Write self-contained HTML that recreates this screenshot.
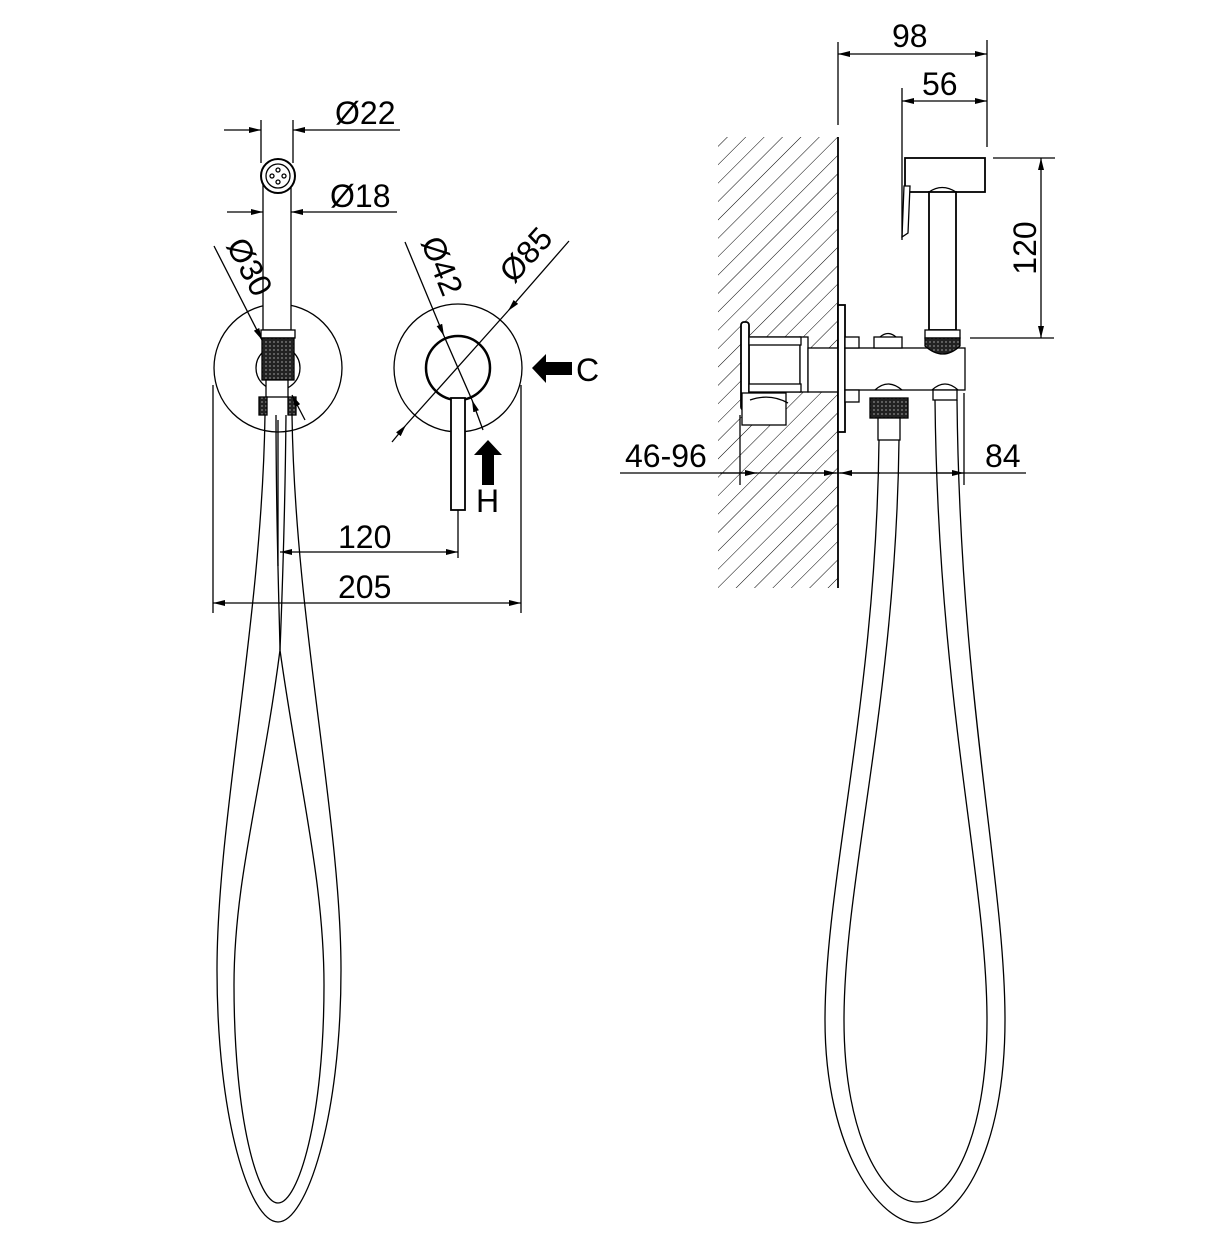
<!DOCTYPE html>
<html><head><meta charset="utf-8"><style>
html,body{margin:0;padding:0;background:#fff}
svg{display:block}
text{font-family:"Liberation Sans",sans-serif;font-size:32px;fill:#000}
</style></head><body>
<svg width="1210" height="1241" viewBox="0 0 1210 1241" xmlns="http://www.w3.org/2000/svg">
<defs>
<pattern id="h" width="13" height="13" patternUnits="userSpaceOnUse" patternTransform="rotate(45)">
<line x1="0" y1="0" x2="0" y2="13" stroke="#000" stroke-width="1"/>
</pattern>
<pattern id="k" width="4" height="4" patternUnits="userSpaceOnUse">
<rect width="4" height="4" fill="#222"/><circle cx="2" cy="2" r="0.9" fill="#888"/>
</pattern>
<marker id="a" viewBox="0 0 12 6" refX="12" refY="3" markerWidth="12" markerHeight="6" orient="auto" markerUnits="userSpaceOnUse">
<path d="M0,0 L12,3 L0,6 Z" fill="#000"/>
</marker>
</defs>
<g fill="none" stroke="#000" stroke-width="1.3">
<!-- LEFT VIEW hose -->
<path d="M265 415 C262 620 217 820 217 970 C217 1120 250 1222 278 1222 C306 1222 341 1120 341 970 C341 820 295 620 292 415"/>
<path d="M280 650 C262 790 234 880 234 985 C234 1120 258 1203 278 1203 C298 1203 324 1120 324 985 C324 880 298 780 280 650"/>
<path d="M276 415 C276 520 279 600 280 650"/>
<path d="M286 415 C285 520 282 600 280 650"/>
<!-- big circles -->
<circle cx="278" cy="368" r="64"/>
<circle cx="278" cy="368" r="22"/>
<circle cx="458" cy="368" r="64"/>
<circle cx="458" cy="368" r="32" stroke-width="2.5"/>
<!-- handheld -->
<rect x="263" y="180" width="28" height="150" fill="#fff"/>
<circle cx="278" cy="176" r="17" fill="#fff" stroke-width="2"/>
<circle cx="278" cy="176" r="12"/>
<circle cx="278" cy="170" r="2"/><circle cx="278" cy="182" r="2"/><circle cx="272" cy="176" r="2"/><circle cx="284" cy="176" r="2"/>
<rect x="261" y="330" width="34" height="8" fill="#fff"/>
<rect x="262" y="338" width="32" height="42" fill="url(#k)"/>
<rect x="266" y="380" width="22" height="17" fill="#fff"/>
<rect x="259" y="397" width="8" height="18" fill="url(#k)"/>
<rect x="288" y="397" width="8" height="18" fill="url(#k)"/>
<!-- lever -->
<rect x="451" y="398" width="14" height="112" fill="#fff" stroke-width="1.8"/>
<!-- dims -->
<line x1="261" y1="120" x2="261" y2="163"/><line x1="293" y1="120" x2="293" y2="163"/>
<line x1="224" y1="130" x2="261" y2="130" marker-end="url(#a)"/>
<line x1="400" y1="130" x2="293" y2="130" marker-end="url(#a)"/>
<line x1="227" y1="212" x2="263" y2="212" marker-end="url(#a)"/>
<line x1="397" y1="212" x2="291" y2="212" marker-end="url(#a)"/>
<line x1="214" y1="246" x2="262" y2="340" marker-end="url(#a)"/>
<line x1="305" y1="420" x2="292" y2="395" marker-end="url(#a)"/>
<line x1="569" y1="241" x2="508" y2="311" marker-end="url(#a)"/>
<line x1="392" y1="442" x2="406" y2="425" marker-end="url(#a)"/>
<line x1="406" y1="425" x2="508" y2="311"/>
<line x1="405" y1="242" x2="444" y2="336" marker-end="url(#a)"/>
<line x1="483" y1="430" x2="472" y2="400" marker-end="url(#a)"/>
<line x1="444" y1="336" x2="472" y2="400"/>
<line x1="458" y1="510" x2="458" y2="558"/>
<line x1="278" y1="420" x2="278" y2="566"/>
<line x1="369" y1="552" x2="280" y2="552" marker-end="url(#a)"/>
<line x1="369" y1="552" x2="458" y2="552" marker-end="url(#a)"/>
<line x1="213" y1="385" x2="213" y2="613"/><line x1="521" y1="385" x2="521" y2="613"/>
<line x1="367" y1="603" x2="213" y2="603" marker-end="url(#a)"/>
<line x1="367" y1="603" x2="521" y2="603" marker-end="url(#a)"/>
</g>
<!-- C/H arrows -->
<path d="M532 368 L546 354 L546 362 L572 362 L572 375 L546 375 L546 383 Z" fill="#000"/>
<path d="M488 440 L502 455 L494 455 L494 485 L482 485 L482 455 L474 455 Z" fill="#000"/>
<text x="576" y="381">C</text>
<text x="476" y="512">H</text>
<text x="335" y="124">Ø22</text>
<text x="330" y="207">Ø18</text>
<text transform="translate(240,272) rotate(62)" text-anchor="middle">Ø30</text>
<text transform="translate(432,270) rotate(68)" text-anchor="middle">Ø42</text>
<text transform="translate(534,262) rotate(-48)" text-anchor="middle">Ø85</text>
<text x="338" y="548">120</text>
<text x="338" y="598">205</text>

<!-- RIGHT VIEW -->
<rect x="718" y="137" width="120" height="451" fill="url(#h)"/>
<g fill="none" stroke="#000" stroke-width="1.3">
<line x1="838" y1="42" x2="838" y2="125"/>
<line x1="838" y1="137" x2="838" y2="588" stroke-width="1.8"/>
<!-- hoses -->
<path d="M879 440 C876 700 825 880 825 1020 C825 1150 880 1223 917 1223 C960 1223 1005 1150 1005 1020 C1005 880 960 700 957 400"/>
<path d="M899 440 C896 700 844 880 844 1020 C844 1140 885 1202 917 1202 C950 1202 987 1140 987 1020 C987 880 938 700 935 400"/>
<!-- wall box -->
<rect x="743" y="337" width="57" height="55" fill="#fff"/>
<rect x="800" y="337" width="8" height="55" fill="#fff"/>
<rect x="741" y="322" width="8" height="88" rx="3" fill="#fff" stroke-width="1.8"/>
<rect x="749" y="337" width="52" height="8" fill="#fff"/>
<rect x="749" y="384" width="52" height="8" fill="#fff"/>
<rect x="742" y="393" width="44" height="32" fill="#fff"/>
<path d="M750 400 Q770 393 788 403" />
<rect x="808" y="348" width="30" height="44" fill="#fff"/>
<rect x="838" y="305" width="7" height="127" fill="#fff" stroke-width="1.8"/>
<!-- body -->
<rect x="845" y="348" width="120" height="42" fill="#fff"/>
<rect x="845" y="337" width="14" height="11" fill="#fff"/>
<rect x="845" y="390" width="14" height="12" fill="#fff"/>
<rect x="874" y="337" width="28" height="11" fill="#fff"/>
<path d="M880 337 Q888 330 896 337"/>
<path d="M875 390 Q888 378 902 390"/>
<path d="M932 390 Q945 378 958 390"/>
<rect x="870" y="398" width="38" height="20" fill="url(#k)"/>
<rect x="878" y="418" width="22" height="22" fill="#fff"/>
<rect x="933" y="390" width="24" height="10" fill="#fff"/>
<!-- handheld -->
<rect x="905" y="158" width="80" height="34" fill="#fff" stroke-width="1.8"/>
<path d="M929 192 Q942 183 956 192" fill="#fff"/>
<rect x="929" y="192" width="27" height="138" fill="#fff" stroke-width="1.8"/>
<path d="M904 186 L910 186 L908 233 L902 237 Z" fill="#fff"/>
<rect x="925" y="330" width="35" height="8" fill="#fff"/>
<path d="M925 338 L960 338 L960 346 Q943 362 925 346 Z" fill="url(#k)"/>
<!-- dims -->
<line x1="987" y1="40" x2="987" y2="147"/>
<line x1="910" y1="54" x2="838" y2="54" marker-end="url(#a)"/>
<line x1="910" y1="54" x2="987" y2="54" marker-end="url(#a)"/>
<line x1="902" y1="88" x2="902" y2="240"/>
<line x1="945" y1="101" x2="902" y2="101" marker-end="url(#a)"/>
<line x1="945" y1="101" x2="987" y2="101" marker-end="url(#a)"/>
<line x1="993" y1="158" x2="1055" y2="158"/>
<line x1="970" y1="338" x2="1054" y2="338"/>
<line x1="1041" y1="248" x2="1041" y2="158" marker-end="url(#a)"/>
<line x1="1041" y1="248" x2="1041" y2="338" marker-end="url(#a)"/>
<line x1="740" y1="415" x2="740" y2="485"/>
<line x1="964" y1="393" x2="964" y2="485"/>
<line x1="620" y1="473" x2="1026" y2="473"/>
<line x1="720" y1="473" x2="757" y2="473" marker-end="url(#a)"/>
<line x1="800" y1="473" x2="836" y2="473" marker-end="url(#a)"/>
<line x1="880" y1="473" x2="840" y2="473" marker-end="url(#a)"/>
<line x1="930" y1="473" x2="964" y2="473" marker-end="url(#a)"/>
</g>
<text x="892" y="47">98</text>
<text x="922" y="95">56</text>
<text transform="translate(1036,248) rotate(-90)" text-anchor="middle">120</text>
<text x="625" y="467">46-96</text>
<text x="985" y="467">84</text>
</svg>
</body></html>
